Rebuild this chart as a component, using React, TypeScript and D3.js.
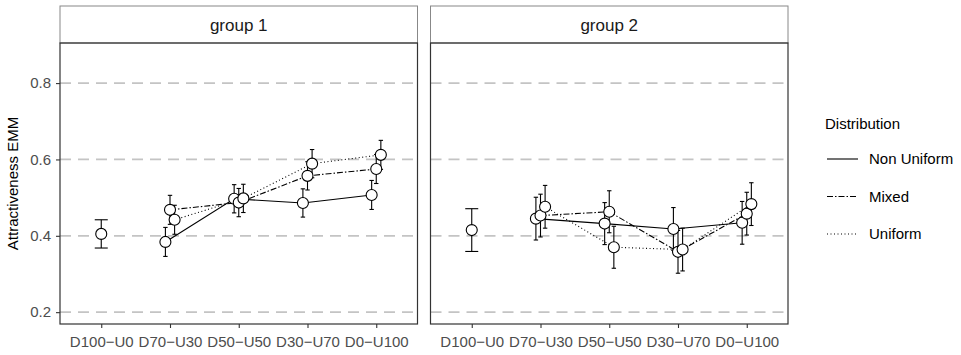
import React, { useEffect, useRef } from 'react';
import * as d3 from 'd3';

// categories and series
const categories = ['D100-U0', 'D70-U30', 'D50-U50', 'D30-U70', 'D0-U100'];
const groups = ['group 1', 'group 2'];
const seriesNames = ['Non Uniform', 'Mixed', 'Uniform'];
const yTicks = [0.2, 0.4, 0.6, 0.8];

// baseline (D100-U0) per group: [emm, half-width of CI]
const baseline = [
  [0.405, 0.037],
  [0.415, 0.056],
];

// values for D70-U30 .. D0-U100, one array per group and series
const g1NonUniform = [0.384, 0.497, 0.486, 0.507];
const g1Mixed = [0.468, 0.487, 0.557, 0.575];
const g1Uniform = [0.442, 0.498, 0.589, 0.612];
const g1Err = [0.038, 0.037, 0.037, 0.038];

const g2NonUniform = [0.445, 0.432, 0.418, 0.434];
const g2Mixed = [0.453, 0.463, 0.358, 0.458];
const g2Uniform = [0.476, 0.37, 0.364, 0.483];
const g2Err = [0.056, 0.055, 0.056, 0.056];

const dashes = [null, '6,2,1.5,2', '1,2.5'];

const App = () => {
  const ref = useRef<SVGSVGElement>(null);

  useEffect(() => {
    const svg = d3.select(ref.current);
    svg.selectAll('*').remove();
    const font = '"Liberation Sans", Arial, sans-serif';

    const top = 43;
    const bottom = 324;
    const stripTop = 6;
    const panelX = [60, 430.5];
    const panelW = 357.5;

    const y = d3.scaleLinear().domain([0.169, 0.905]).range([bottom, top]);

    const groupData = [
      [g1NonUniform, g1Mixed, g1Uniform],
      [g2NonUniform, g2Mixed, g2Uniform],
    ];
    const groupErr = [g1Err, g2Err];

    groups.forEach((g, gi) => {
      const x = d3
        .scalePoint<string>()
        .domain(categories)
        .range([panelX[gi], panelX[gi] + panelW])
        .padding(0.6);
      const panel = svg.append('g');

      // strip
      panel
        .append('rect')
        .attr('x', panelX[gi])
        .attr('y', stripTop)
        .attr('width', panelW)
        .attr('height', top - stripTop)
        .attr('fill', '#fff')
        .attr('stroke', '#888')
        .attr('stroke-width', 1);
      panel
        .append('text')
        .attr('x', panelX[gi] + panelW / 2)
        .attr('y', 31)
        .attr('text-anchor', 'middle')
        .attr('font-family', font)
        .attr('font-size', 17)
        .attr('fill', '#1a1a1a')
        .text(g);

      // grid
      panel
        .selectAll('.grid')
        .data(yTicks)
        .enter()
        .append('line')
        .attr('x1', panelX[gi])
        .attr('x2', panelX[gi] + panelW)
        .attr('y1', (d) => y(d))
        .attr('y2', (d) => y(d))
        .attr('stroke', '#c4c4c4')
        .attr('stroke-width', 1.8)
        .attr('stroke-dasharray', '11,7');

      // x axis
      const xAxis = panel
        .append('g')
        .attr('transform', `translate(0,${bottom})`)
        .call(d3.axisBottom(x).tickSize(4).tickSizeOuter(0).tickFormat((d) => d.replace('-', '\u2212')));
      xAxis.select('.domain').remove();
      xAxis.selectAll('line').attr('stroke', '#333').attr('stroke-width', 1.1);
      xAxis
        .selectAll('text')
        .attr('font-family', font)
        .attr('font-size', 15)
        .attr('fill', '#4d4d4d')
        .attr('y', 12);

      if (gi === 0) {
        const yAxis = panel
          .append('g')
          .attr('transform', `translate(${panelX[0]},0)`)
          .call(d3.axisLeft(y).tickValues(yTicks).tickSize(4).tickFormat(d3.format('.1f')));
        yAxis.select('.domain').remove();
        yAxis.selectAll('line').attr('stroke', '#333').attr('stroke-width', 1.1);
        yAxis
          .selectAll('text')
          .attr('font-family', font)
          .attr('font-size', 15)
          .attr('fill', '#4d4d4d')
          .attr('x', -9);
      }

      // baseline point
      const bx = x(categories[0])!;
      const [bv, be] = baseline[gi];
      const bg = panel.append('g').attr('stroke', '#000').attr('stroke-width', 1.1);
      bg.append('line').attr('x1', bx).attr('x2', bx).attr('y1', y(bv - be)).attr('y2', y(bv + be));
      [bv - be, bv + be].forEach((v) =>
        bg.append('line').attr('x1', bx - 6.5).attr('x2', bx + 6.5).attr('y1', y(v)).attr('y2', y(v))
      );
      bg.append('circle').attr('cx', bx).attr('cy', y(bv)).attr('r', 5.5).attr('fill', '#fff');

      // series
      const dodge = 4.6;
      const rest = categories.slice(1);
      const seriesG = panel.append('g');
      groupData[gi].forEach((vals, si) => {
        const off = (si - 1) * dodge;
        const pts = vals.map((v, i) => [x(rest[i])! + off, y(v)] as [number, number]);
        seriesG
          .append('path')
          .attr('d', d3.line()(pts))
          .attr('fill', 'none')
          .attr('stroke', '#000')
          .attr('stroke-width', 1.1)
          .attr('stroke-dasharray', dashes[si]);
      });
      groupData[gi].forEach((vals, si) => {
        const off = (si - 1) * dodge;
        vals.forEach((v, i) => {
          const cx = x(rest[i])! + off;
          const e = groupErr[gi][i];
          const eg = seriesG.append('g').attr('stroke', '#000').attr('stroke-width', 1.1);
          eg.append('line').attr('x1', cx).attr('x2', cx).attr('y1', y(v - e)).attr('y2', y(v + e));
          [v - e, v + e].forEach((w) =>
            eg.append('line').attr('x1', cx - 2.2).attr('x2', cx + 2.2).attr('y1', y(w)).attr('y2', y(w))
          );
        });
      });
      groupData[gi].forEach((vals, si) => {
        const off = (si - 1) * dodge;
        seriesG
          .selectAll(`.pt${si}`)
          .data(vals)
          .enter()
          .append('circle')
          .attr('cx', (_, i) => x(rest[i])! + off)
          .attr('cy', (d) => y(d))
          .attr('r', 5.5)
          .attr('fill', '#fff')
          .attr('stroke', '#000')
          .attr('stroke-width', 1.1);
      });

      // panel border
      panel
        .append('rect')
        .attr('x', panelX[gi])
        .attr('y', top)
        .attr('width', panelW)
        .attr('height', bottom - top)
        .attr('fill', 'none')
        .attr('stroke', '#333')
        .attr('stroke-width', 1.2);
    });

    // y title
    svg
      .append('text')
      .attr('transform', `translate(18,${(top + bottom) / 2}) rotate(-90)`)
      .attr('text-anchor', 'middle')
      .attr('font-family', font)
      .attr('font-size', 15)
      .attr('fill', '#000')
      .text('Attractiveness EMM');

    // legend
    const lg = svg.append('g');
    lg.append('text')
      .attr('x', 825)
      .attr('y', 129)
      .attr('font-family', font)
      .attr('font-size', 15)
      .attr('fill', '#000')
      .text('Distribution');
    seriesNames.forEach((s, si) => {
      const ly = 159 + si * 37.5;
      lg.append('line')
        .attr('x1', 827)
        .attr('x2', 858)
        .attr('y1', ly)
        .attr('y2', ly)
        .attr('stroke', '#000')
        .attr('stroke-width', 1.1)
        .attr('stroke-dasharray', dashes[si]);
      lg.append('text')
        .attr('x', 869)
        .attr('y', ly + 5)
        .attr('font-family', font)
        .attr('font-size', 15)
        .attr('fill', '#000')
        .text(s);
    });
  }, []);

  return (
    <div style={{ position: 'absolute', left: 0, top: 0 }}>
      <svg ref={ref} width={961} height={355} style={{ display: 'block', background: '#fff' }} />
    </div>
  );
};

export default App;
